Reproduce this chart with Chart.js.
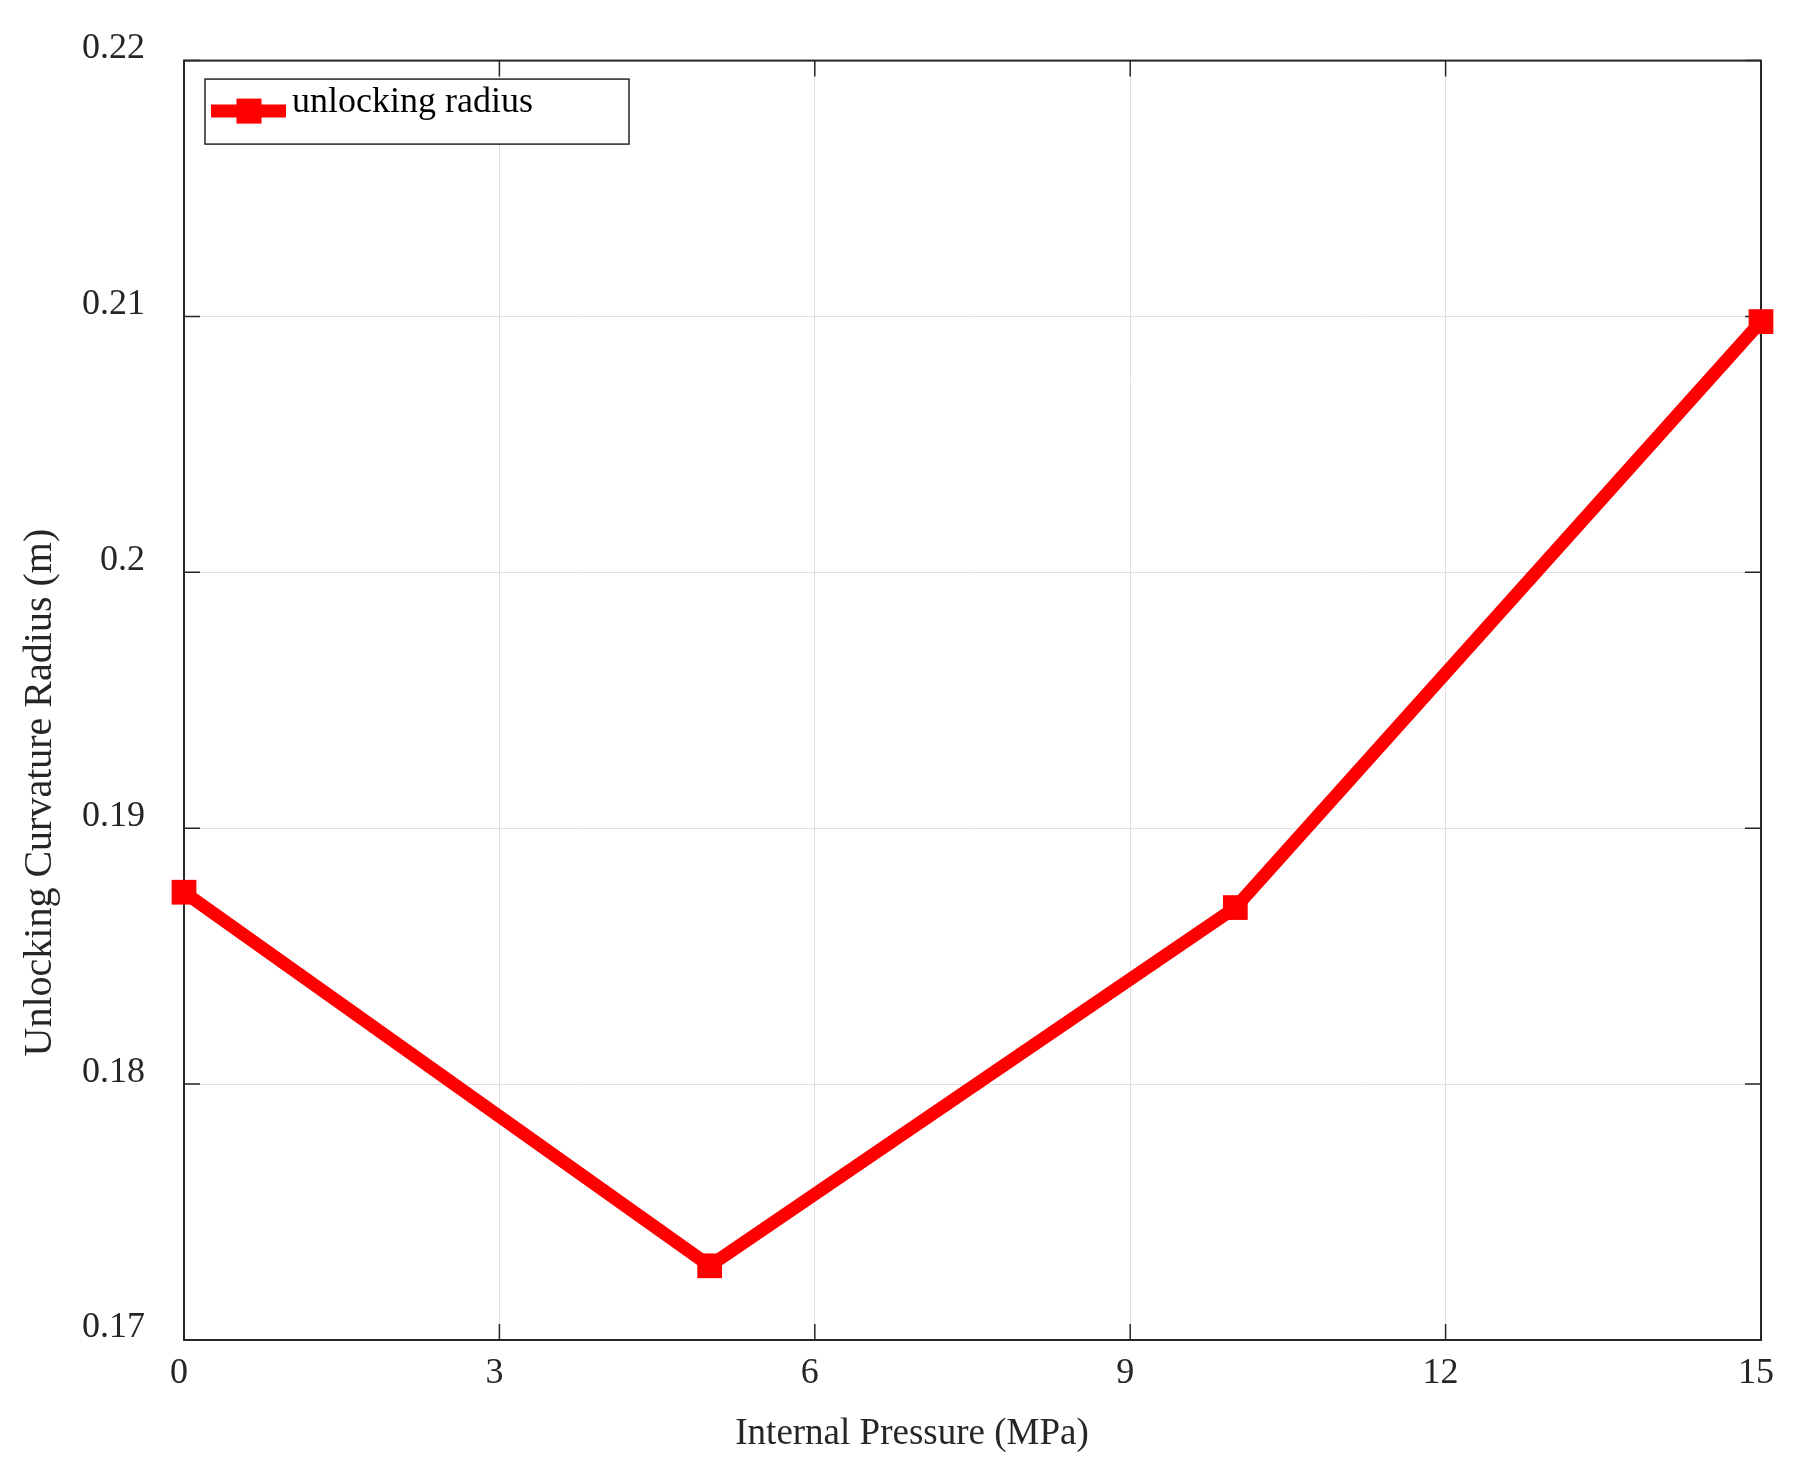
<!DOCTYPE html>
<html>
<head>
<meta charset="utf-8">
<script src="https://cdn.jsdelivr.net/npm/chart.js@4.4.1/dist/chart.umd.min.js"></script>
<style>
  html, body { margin: 0; padding: 0; background: #ffffff; }
  #wrap { width: 1803px; height: 1473px; position: relative; }
</style>
</head>
<body>
<div id="wrap"><canvas id="c" width="1803" height="1473"></canvas></div>
<script>
// ---- data ----
const pressure = [0, 5, 10, 15];                       // Internal Pressure (MPa)
const radius = [0.1875, 0.1729, 0.1869, 0.2098];       // Unlocking Curvature Radius (m)
const xTickValues = [0, 3, 6, 9, 12, 15];
const yTickValues = [0.17, 0.18, 0.19, 0.2, 0.21, 0.22];
const seriesLabel = 'unlocking radius';
const xTitle = 'Internal Pressure (MPa)';
const yTitle = 'Unlocking Curvature Radius (m)';

const FONT = 'Liberation Serif';
const TXT = '#262626';

const frame = {
  id: 'frame',
  beforeDatasetsDraw(chart) {
    const { ctx, chartArea: a, scales: { x, y } } = chart;
    ctx.save();
    ctx.strokeStyle = TXT;
    ctx.lineWidth = 1.5;
    const tl = 16;
    ctx.beginPath();
    xTickValues.forEach(v => {
      const px = x.getPixelForValue(v);
      ctx.moveTo(px, a.bottom); ctx.lineTo(px, a.bottom - tl);
      ctx.moveTo(px, a.top); ctx.lineTo(px, a.top + tl);
    });
    yTickValues.forEach(v => {
      const py = y.getPixelForValue(v);
      ctx.moveTo(a.left, py); ctx.lineTo(a.left + tl, py);
      ctx.moveTo(a.right, py); ctx.lineTo(a.right - tl, py);
    });
    ctx.stroke();
    ctx.lineWidth = 2;
    ctx.strokeRect(a.left, a.top, a.right - a.left, a.bottom - a.top);
    ctx.restore();
  },
  afterDraw(chart) {
    const { ctx, chartArea: a } = chart;
    ctx.save();
    ctx.fillStyle = TXT;
    ctx.textAlign = 'center';
    ctx.textBaseline = 'middle';
    ctx.font = '37px "' + FONT + '"';
    ctx.fillText(xTitle, a.left + 728, a.bottom + 94);
    ctx.font = '40px "' + FONT + '"';
    ctx.translate(40, a.top + 732);
    ctx.rotate(-Math.PI / 2);
    ctx.fillText(yTitle, 0, 0);
    ctx.restore();

    // legend (inside plot, top-left)
    const ds = chart.data.datasets[0];
    ctx.save();
    const bx = a.left + 21, by = a.top + 18.5, bw = 424, bh = 65;
    ctx.fillStyle = '#ffffff';
    ctx.fillRect(bx, by, bw, bh);
    ctx.strokeStyle = TXT;
    ctx.lineWidth = 1.5;
    ctx.strokeRect(bx, by, bw, bh);
    const ly = by + 32;
    ctx.strokeStyle = ds.borderColor;
    ctx.lineWidth = ds.borderWidth;
    ctx.beginPath();
    ctx.moveTo(bx + 6, ly); ctx.lineTo(bx + 81, ly);
    ctx.stroke();
    ctx.fillStyle = ds.pointBackgroundColor;
    ctx.fillRect(bx + 44 - 12.5, ly - 12.5, 25, 25);
    ctx.fillStyle = '#000000';
    ctx.font = '36px "' + FONT + '"';
    ctx.textAlign = 'left';
    ctx.textBaseline = 'alphabetic';
    ctx.fillText(seriesLabel, bx + 87, by + 33);
    ctx.restore();
  }
};

const ctx = document.getElementById('c').getContext('2d');
new Chart(ctx, {
  type: 'line',
  data: {
    datasets: [{
      label: seriesLabel,
      data: pressure.map((p, i) => ({ x: p, y: radius[i] })),
      borderColor: '#ff0000',
      backgroundColor: '#ff0000',
      pointBackgroundColor: '#ff0000',
      pointBorderColor: '#ff0000',
      borderWidth: 13,
      pointStyle: 'rect',
      pointRadius: 17.5,
      pointBorderWidth: 0,
      pointHoverRadius: 17.5,
      tension: 0,
      clip: false
    }]
  },
  options: {
    responsive: false,
    animation: false,
    events: [],
    layout: { padding: { left: 0, right: 42, top: 57, bottom: 0 } },
    plugins: { legend: { display: false }, tooltip: { enabled: false } },
    scales: {
      x: {
        type: 'linear',
        min: 0, max: 15,
        afterBuildTicks(s) { s.ticks = xTickValues.map(v => ({ value: v })); },
        afterFit(s) { s.height = 133; },
        grid: { color: '#dfdfdf', lineWidth: 1, drawTicks: false },
        border: { display: false },
        ticks: {
          color: TXT,
          font: { family: FONT, size: 36 },
          padding: 12,
          labelOffset: -5,
          maxRotation: 0,
          autoSkip: false,
          callback: v => String(v)
        }
      },
      y: {
        type: 'linear',
        min: 0.17, max: 0.22,
        afterBuildTicks(s) { s.ticks = yTickValues.map(v => ({ value: v })); },
        afterFit(s) { s.width = 184; },
        grid: { color: '#dfdfdf', lineWidth: 1, drawTicks: false },
        border: { display: false },
        ticks: {
          color: TXT,
          font: { family: FONT, size: 36 },
          padding: 39,
          labelOffset: -12,
          autoSkip: false,
          callback: v => String(Number(v.toFixed(4)))
        }
      }
    }
  },
  plugins: [frame]
});
</script>
</body>
</html>
